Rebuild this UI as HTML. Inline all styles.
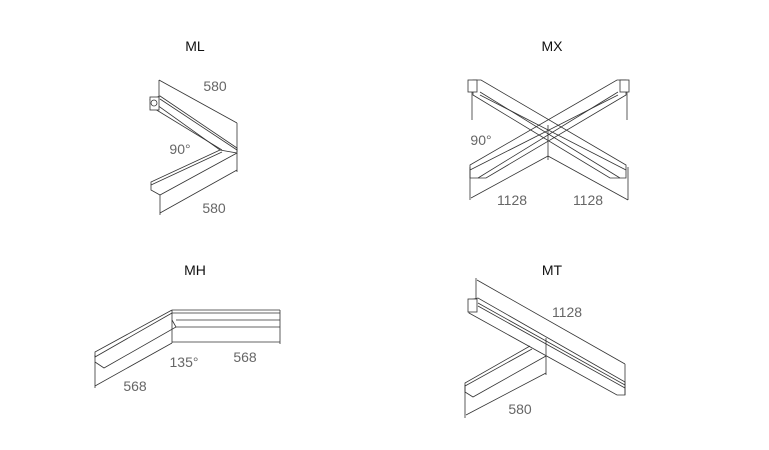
<!DOCTYPE html>
<html><head><meta charset="utf-8"><style>
html,body{margin:0;padding:0;background:#fff;}
svg{display:block}
text{font-family:"Liberation Sans",sans-serif;}
.t{font-size:14px;fill:#111;text-anchor:middle}
.d{font-size:14px;fill:#666;text-anchor:middle}
</style></head><body>
<svg width="769" height="450" viewBox="0 0 769 450" xmlns="http://www.w3.org/2000/svg">
<g stroke="#333" stroke-width="0.8" fill="none">
<!-- ML -->
<polyline points="159,80 159,100"/><polyline points="237,123 237,152"/>
<line x1="159" y1="80" x2="237" y2="123"/>
<polygon points="150,100 160,96 237,148 237,153 220,150"/>
<line x1="150" y1="106" x2="222" y2="150"/>
<line x1="160" y1="99" x2="237" y2="150"/>
<rect x="150" y="97" width="9" height="13" fill="#fff"/>
<circle cx="154" cy="103" r="3"/>
<polyline points="220,150 151,182 151,190 160,195 237,153"/>
<line x1="151" y1="185" x2="222" y2="152"/>
<polyline points="160,195 160,215"/><polyline points="237,153 237,172"/>
<line x1="160" y1="213" x2="237" y2="170"/>
<!-- MX -->
<line x1="472" y1="80" x2="472" y2="120"/>
<line x1="627" y1="80" x2="627" y2="120"/>
<polygon points="473,80 481,80 626,165 626,178 610,178 473,95"/>
<line x1="480" y1="95" x2="626" y2="170"/>
<line x1="480" y1="92" x2="620" y2="178"/>
<polygon points="626,80 617,80 470,165 470,178 486,178 626,95"/>
<line x1="618" y1="95" x2="470" y2="170"/>
<line x1="618" y1="92" x2="478" y2="178"/>
<rect x="468" y="80" width="9" height="12" fill="#fff"/>
<rect x="620" y="80" width="9" height="12" fill="#fff"/>
<line x1="470" y1="167" x2="470" y2="200"/>
<line x1="628" y1="167" x2="628" y2="200"/>
<line x1="548" y1="125" x2="548" y2="160"/>
<line x1="471" y1="198" x2="548" y2="156"/>
<line x1="548" y1="156" x2="628" y2="200"/>
<!-- MH -->
<line x1="172" y1="310" x2="280" y2="310"/>
<line x1="172" y1="313" x2="280" y2="313"/>
<line x1="176" y1="320" x2="280" y2="320"/>
<line x1="176" y1="327" x2="280" y2="327"/>
<line x1="172" y1="310" x2="172" y2="343"/>
<line x1="280" y1="310" x2="280" y2="344"/>
<line x1="172" y1="342" x2="280" y2="342"/>
<polyline points="172,310 95,352 95,357 172,313"/>
<polyline points="172,320 176,327 104,368 95,362"/>
<line x1="95" y1="355" x2="95" y2="388"/>
<line x1="95" y1="386" x2="172" y2="343"/>
<!-- MT -->
<line x1="476" y1="278" x2="476" y2="300"/>
<line x1="477" y1="280" x2="625" y2="364"/>
<line x1="625" y1="364" x2="625" y2="395"/>
<polygon points="469,300 478,298 625,382 625,395 617,395 469,313"/>
<line x1="478" y1="306" x2="625" y2="388"/>
<line x1="478" y1="303" x2="625" y2="385"/>
<rect x="468" y="299" width="9" height="13" fill="#fff"/>
<line x1="546" y1="338" x2="546" y2="375"/>
<polyline points="530,346 465,383 465,392 473,397 546,356"/>
<line x1="465" y1="386" x2="532" y2="349"/>
<line x1="465" y1="385" x2="465" y2="418"/>
<line x1="466" y1="415" x2="546" y2="373"/>
</g>
<text class="t" x="195" y="51">ML</text>
<text class="t" x="552" y="51">MX</text>
<text class="t" x="195" y="275">MH</text>
<text class="t" x="552" y="275">MT</text>
<text class="d" x="215" y="91">580</text>
<text class="d" x="180" y="154">90°</text>
<text class="d" x="214" y="213">580</text>
<text class="d" x="481" y="145">90°</text>
<text class="d" x="512" y="205">1128</text>
<text class="d" x="588" y="205">1128</text>
<text class="d" x="184" y="367">135°</text>
<text class="d" x="245" y="362">568</text>
<text class="d" x="135" y="391">568</text>
<text class="d" x="567" y="317">1128</text>
<text class="d" x="520" y="414">580</text>
</svg>
</body></html>
